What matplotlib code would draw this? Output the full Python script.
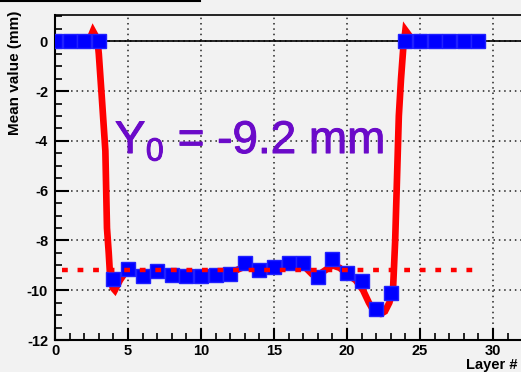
import numpy as np
import matplotlib.pyplot as plt
import matplotlib.patheffects as pe
from matplotlib.lines import Line2D
from matplotlib.ticker import MultipleLocator

plt.rcParams['axes.unicode_minus'] = False

# mean value per layer (blue squares)
layers = np.arange(30)
means = [0, 0, 0, 0, -9.56, -9.13, -9.44, -9.24, -9.38, -9.44,
         -9.42, -9.40, -9.34, -8.91, -9.19, -9.05, -8.89, -8.89, -9.46, -8.76,
         -9.32, -9.64, -10.77, -10.10, 0, 0, 0, 0, 0, 0]

# fitted response curve (red)
fit_x = [0, 2.3, 2.6, 2.9, 3.0, 3.2, 3.45, 3.56, 3.68, 3.77, 3.95, 4.1, 4.45, 4.8,
         5.5, 6, 7, 8, 9, 10, 11, 12, 13, 14, 15, 16, 17, 17.6, 18.0, 18.5,
         19.0, 19.5, 20.0, 20.6, 21.1, 21.5, 21.9, 22.3, 22.6, 22.9, 23.15,
         23.3, 23.45, 23.55, 23.7, 23.85, 24.0, 24.5, 29]
fit_y = [0, 0, 0.42, 0.1, -0.5, -2.2, -4.4, -7.5, -8.5, -9.4, -9.9, -10.0, -9.6, -9.3,
         -9.3, -9.35, -9.3, -9.35, -9.4, -9.4, -9.35, -9.3, -9.05, -9.15, -9.05, -8.95, -9.0,
         -9.35, -9.4, -9.2, -9.0, -9.1, -9.35, -9.6, -10.0, -10.5, -10.9, -10.95, -10.85,
         -10.5, -10.0, -8.0, -5.0, -3.0, -1.5, -0.3, 0.45, 0.05, 0]

# fitted plateau
y0 = -9.2
y0_from, y0_to = 0.5, 28.9

bg = '#f2f2f2'
fig = plt.figure(figsize=(5.21, 3.72), dpi=100, facecolor=bg)
ax = fig.add_axes([55 / 521, 32 / 372, 466 / 521, 325.5 / 372], facecolor=bg)

ax.plot(fit_x, fit_y, color='#ff0000', lw=4.8, solid_joinstyle='miter', zorder=3)
ax.plot(layers, means, 's', color='#0000ff', ms=9.6, mec='#2020ff', zorder=4)
ax.plot([y0_from, y0_to], [y0, y0], color='#ff0000', lw=3.2,
        linestyle=(0, (1.3, 2.2)), zorder=5)
ax.axhline(0, color='black', lw=1.2, zorder=2)

purple = '#6b0ac9'
ax.text(4.1, -4.49, 'Y$_{\\mathregular{0}}$ = -9.2 mm', color=purple,
        fontsize=33, family='Liberation Sans', ha='left', va='baseline', zorder=6,
        path_effects=[pe.withStroke(linewidth=0.7, foreground=purple)])

ax.set_xlim(0, 466 / 14.6)
ax.set_ylim(-12, 1.08)
ax.xaxis.set_major_locator(MultipleLocator(5))
ax.xaxis.set_minor_locator(MultipleLocator(1))
ax.yaxis.set_major_locator(MultipleLocator(2))
ax.yaxis.set_minor_locator(MultipleLocator(0.5))
ax.grid(True, which='major', color='#222222', linestyle=(0, (1, 2.5)), lw=1.1)

ax.tick_params(which='both', direction='in', color='black')
ax.tick_params(axis='y', which='major', length=10, width=1.5, pad=5)
ax.tick_params(axis='x', which='major', length=9, width=1.5, pad=3)
ax.tick_params(which='minor', length=5, width=1.2)
for lab in ax.get_xticklabels() + ax.get_yticklabels():
    lab.set_fontfamily('Liberation Sans')
    lab.set_fontweight('bold')
    lab.set_fontsize(10.5)

ax.spines['right'].set_visible(False)
ax.spines['left'].set_linewidth(1.5)
ax.spines['bottom'].set_linewidth(1.5)
ax.spines['top'].set_linewidth(1.2)

fig.text(15 / 521, 1 - 11 / 372, 'Mean value (mm)', rotation=90, ha='center', va='top',
         fontsize=11, fontweight='bold', family='Liberation Sans')
fig.text(518 / 521, 1 - 365 / 372, 'Layer #', ha='right', va='center',
         fontsize=10.5, fontweight='bold', family='Liberation Sans')

fig.add_artist(Line2D([0, 200 / 521], [1 - 1 / 372, 1 - 1 / 372], color='black', lw=1.5))

fig.savefig('out.png', dpi=100, facecolor=bg)
